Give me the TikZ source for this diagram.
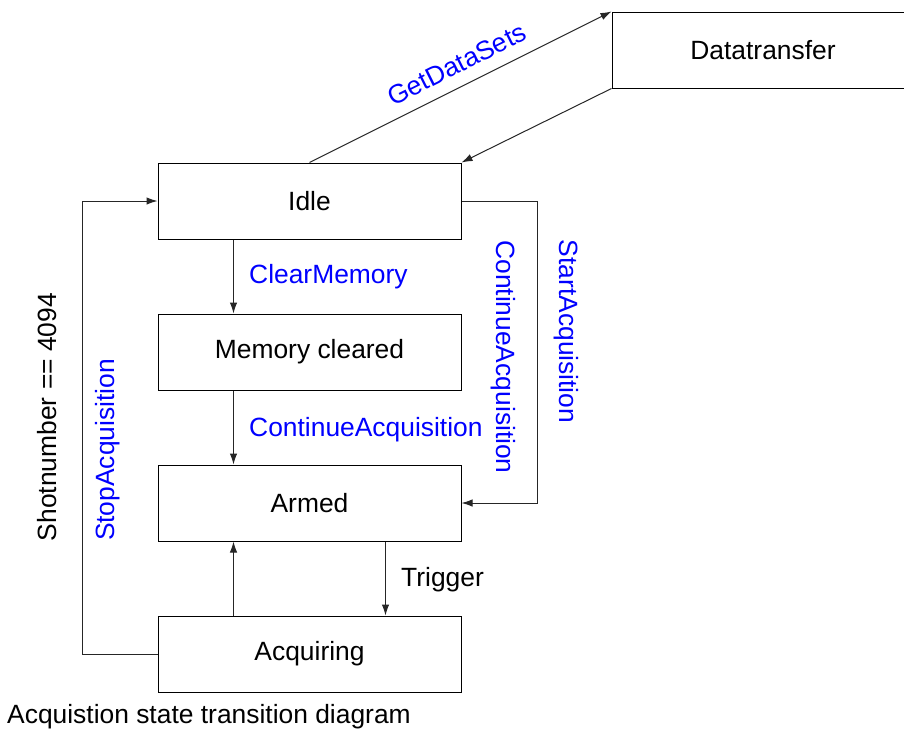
\documentclass[tikz,border=0pt]{standalone}
\usepackage{fontspec}
\setmainfont{Liberation Sans}
\usetikzlibrary{arrows.meta,calc}
\begin{document}
\begin{tikzpicture}[x=1pt,y=-1pt,
  state/.style={draw=black,line width=1pt,minimum width=303pt,minimum height=76pt,inner sep=0pt,font=\fontsize{26.4}{31}\selectfont},
  conn/.style={draw=black!85,line width=1pt,-{Latex[length=11pt,width=7.5pt]}},
  lbl/.style={inner sep=0pt,font=\fontsize{26.4}{31}\selectfont},
  blbl/.style={lbl,text=blue}]
\useasboundingbox (0,0) rectangle (904,731);
\begin{scope}
\clip (0,0) rectangle (904,731);
\node[state] (Idle) at (309.5,201) {Idle};
\node[state] (Mem) at (309.5,352) {Memory cleared};
\node[state] (Armed) at (309.5,503) {Armed};
\node[state] (Acq) at (309.5,654) {Acquiring};
\node[state,minimum width=302pt] (DT) at (763,50) {Datatransfer};

\draw[conn] (Idle.north) -- node[blbl,sloped,above=12pt,pos=0.52] {GetDataSets} (DT.north west);
\draw[conn] (DT.south west) -- (Idle.north east);

\coordinate (i1) at ($(Idle.south west)!0.25!(Idle.south east)$);
\coordinate (m1) at ($(Mem.north west)!0.25!(Mem.north east)$);
\coordinate (m2) at ($(Mem.south west)!0.25!(Mem.south east)$);
\coordinate (a1) at ($(Armed.north west)!0.25!(Armed.north east)$);
\coordinate (a2) at ($(Armed.south west)!0.25!(Armed.south east)$);
\coordinate (a3) at ($(Armed.south west)!0.75!(Armed.south east)$);
\coordinate (q1) at ($(Acq.north west)!0.25!(Acq.north east)$);
\coordinate (q2) at ($(Acq.north west)!0.75!(Acq.north east)$);

\draw[conn] (i1) -- (m1);
\draw[conn] (m2) -- (a1);
\draw[conn] (q1) -- (a2);
\draw[conn] (a3) -- (q2);

\draw[conn] (Idle.east) -- ++(76,0) |- (Armed.east);
\draw[conn] (Acq.west) -- ++(-75,0) |- (Idle.west);

\node[blbl,anchor=west] (lcm) at (249,277) {ClearMemory};
\node[blbl,anchor=west] (lca) at (249,430) {ContinueAcquisition};
\node[lbl,anchor=west] (ltr) at (401,580) {Trigger};
\node[blbl,rotate=-90] (lca2) at (503.5,357) {ContinueAcquisition};
\node[blbl,rotate=-90] (lsa) at (566,331.5) {StartAcquisition};
\node[blbl,rotate=90] (lsp) at (108,450) {StopAcquisition};
\node[lbl,rotate=90] (lsn) at (47,417) {Shotnumber == 4094};
\node[lbl,anchor=west] (cap) at (7,717) {Acquistion state transition diagram};
\end{scope}
\end{tikzpicture}
\end{document}
